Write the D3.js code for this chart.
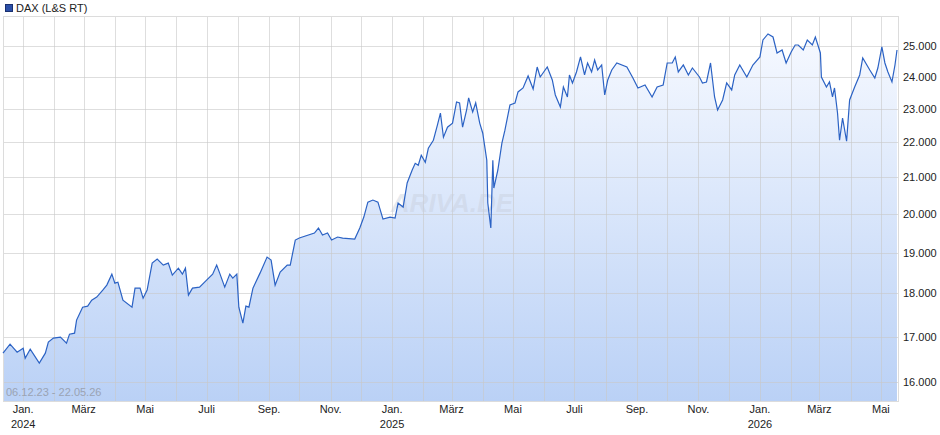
<!DOCTYPE html>
<html><head><meta charset="utf-8">
<script src="https://cdn.jsdelivr.net/npm/d3@7/dist/d3.min.js"></script>
<style>body{margin:0;background:#fff;font-family:"Liberation Sans",Arial,sans-serif}</style>
</head><body><svg id="c" width="940" height="435"></svg>
<script>
const startDate = "2023-12-12";
const dayOffsets = [0,7,14,20,22,27,36,42,45,50,57,63,66,71,73,79,84,88,93,99,103,108,111,114,119,128,131,136,139,143,148,153,159,164,168,174,178,181,184,188,195,202,208,212,215,220,225,228,232,234,238,241,244,248,255,262,266,270,275,282,285,290,294,309,313,317,322,326,332,337,349,354,358,362,367,372,377,384,389,392,397,401,406,409,412,415,419,422,427,431,434,437,441,446,450,453,456,460,462,466,469,473,476,480,481,484,486,487,491,495,498,503,508,511,516,521,526,530,533,540,545,548,553,556,560,562,565,569,573,577,580,584,587,590,594,597,600,604,609,619,625,630,637,644,649,655,659,664,667,670,675,680,684,691,694,698,702,706,709,714,718,723,726,731,738,744,751,754,759,764,768,773,777,782,786,789,794,798,803,806,811,812,817,820,823,825,828,830,833,837,840,845,850,853,860,865,868,872,875,878,882,885,887];
const values = [16628,16828,16650,16739,16518,16717,16409,16628,16873,16963,16986,16851,17053,17076,17374,17675,17699,17841,17912,18079,18200,18467,18248,18272,17841,17675,18127,18127,17888,18079,18740,18839,18690,18740,18443,18615,18467,18615,17960,18127,18151,18321,18467,18690,18492,18151,18467,18370,18467,17675,17305,17699,17675,18127,18492,18889,18814,18200,18516,18690,18690,19322,19374,19503,19633,19451,19503,19322,19400,19374,19348,19633,19921,20321,20376,20321,19868,19921,19895,20295,20187,20842,21205,21395,21338,21624,21424,21826,22060,22506,22871,22148,22445,22567,23209,23179,22445,22963,23333,22901,23179,22567,22266,21481,20295,19633,21481,20703,21205,21972,22355,23117,23179,23520,23645,24026,23614,24312,23992,24312,23897,23426,23056,23676,23364,24056,23802,24152,24638,24056,24442,24152,24540,24216,24377,23426,23897,24216,24442,24312,23960,23645,23739,23364,23676,23739,24442,24442,24638,24152,24377,24056,24280,23992,23802,23834,24442,23364,22963,23271,23802,23582,24056,24377,23992,24377,24638,25200,25403,25300,24769,24867,24442,24802,25033,25033,24867,25200,25033,25300,24769,23992,23676,23834,23364,23645,22871,22060,22720,22030,23271,23676,24056,24606,24216,23960,24280,24967,24442,24152,23834,24377,24867];
const yTicks = [16000,17000,18000,19000,20000,21000,22000,23000,24000,25000];
const monthNames = ["Jan.","Feb.","März","April","Mai","Juni","Juli","Aug.","Sep.","Okt.","Nov.","Dez."];
const seriesName = "DAX (L&S RT)";
const rangeLabel = "06.12.23 - 22.05.26";

const svg = d3.select("#c");
const L=3,R=898,T=16,B=401;
const t0 = new Date(startDate+"T00:00:00");
const data = dayOffsets.map((d,i)=>({date:d3.timeDay.offset(t0,d), v:values[i]}));
const x = d3.scaleTime().domain([t0, d3.timeDay.offset(t0,888)]).range([L,R]);
const y = d3.scaleLog().domain([15605,26015]).range([B,T]);

const defs = svg.append("defs");
const g = defs.append("linearGradient").attr("id","gr").attr("x1",0).attr("x2",0).attr("y1",0).attr("y2",1);
g.append("stop").attr("offset","0%").attr("stop-color","#f6f9ff");
g.append("stop").attr("offset","100%").attr("stop-color","#bad1f6");
defs.append("clipPath").attr("id","cp").append("rect").attr("x",L).attr("y",T).attr("width",R-L).attr("height",B-T);

svg.append("path").datum(data).attr("clip-path","url(#cp)")
 .attr("fill","url(#gr)")
 .attr("d", d3.area().x(d=>x(d.date)).y0(B).y1(d=>y(d.v)));

const months = d3.timeMonth.range(d3.timeMonth.ceil(t0), x.domain()[1]);
svg.append("g").selectAll("line").data(months).join("line")
 .attr("x1",d=>Math.round(x(d))+0.5).attr("x2",d=>Math.round(x(d))+0.5).attr("y1",T).attr("y2",B)
 .attr("stroke","#c8c8c8").attr("stroke-opacity",0.6).attr("stroke-width",1);
svg.append("g").selectAll("line").data(yTicks).join("line")
 .attr("x1",L).attr("x2",R).attr("y1",d=>Math.round(y(d))+0.5).attr("y2",d=>Math.round(y(d))+0.5)
 .attr("stroke","#c8c8c8").attr("stroke-opacity",0.6);
svg.append("rect").attr("x",L+0.5).attr("y",T+0.5).attr("width",R-L).attr("height",B-T)
 .attr("fill","none").attr("stroke","#dcdcdc");

svg.append("text").attr("x",452).attr("y",212).attr("text-anchor","middle")
 .attr("font-size",26).attr("font-style","italic").attr("font-weight","bold")
 .attr("fill","#c8cfdc").attr("fill-opacity",0.45).text("ARIVA.DE");

svg.append("path").datum(data).attr("fill","none").attr("stroke","#2b62c4").attr("stroke-width",1.2)
 .attr("d", d3.line().x(d=>x(d.date)).y(d=>y(d.v)));

svg.append("g").selectAll("text").data(yTicks).join("text")
 .attr("x",903).attr("y",d=>y(d)+4).attr("font-size",11).attr("fill","#222")
 .text(d=>d3.format(",")(d).replace(",","."));

const labMonths = months.filter(m=>m.getMonth()%2===0);
const xl = svg.append("g").selectAll("g").data(labMonths).join("g");
xl.append("text").attr("x",d=>x(d)).attr("y",413).attr("text-anchor","middle").attr("font-size",11).attr("fill","#222")
 .text(d=>monthNames[d.getMonth()]);
xl.filter(d=>d.getMonth()===0).append("text").attr("x",d=>x(d)).attr("y",428).attr("text-anchor","middle")
 .attr("font-size",11).attr("fill","#222").text(d=>d.getFullYear());

svg.append("rect").attr("x",5.5).attr("y",4.5).attr("width",7).attr("height",7).attr("fill","#2b4fa8").attr("stroke","#1a3070");
svg.append("text").attr("x",16).attr("y",12).attr("font-size",11).attr("fill","#222").text(seriesName);
svg.append("text").attr("x",6).attr("y",396).attr("font-size",11).attr("fill","#9aa3b3").text(rangeLabel);
</script></body></html>
